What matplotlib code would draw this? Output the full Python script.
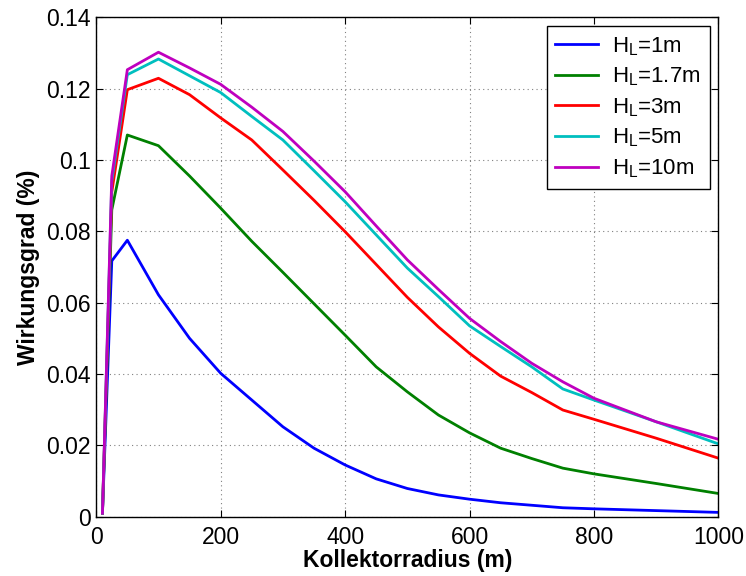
import matplotlib.pyplot as plt

plt.rcParams['font.family'] = ['Liberation Sans', 'DejaVu Sans']
plt.rcParams['mathtext.default'] = 'regular'

# Kollektorradius (m)
radius = [10, 25, 50, 100, 150, 200, 250, 300, 350, 400, 450, 500,
          550, 600, 650, 700, 750, 800, 900, 1000]

# Wirkungsgrad for each tower height H_L
eta_1m = [0.001, 0.0717, 0.0775, 0.0622, 0.0500, 0.0402, 0.0327, 0.0252, 0.0192,
          0.0145, 0.0106, 0.0079, 0.0061, 0.0049, 0.0039, 0.0032, 0.0025, 0.0022,
          0.0017, 0.0012]
eta_1_7m = [0.001, 0.086, 0.107, 0.104, 0.0955, 0.0865, 0.0772, 0.0685, 0.0597,
            0.0509, 0.0420, 0.0350, 0.0285, 0.0235, 0.0192, 0.0163, 0.0136, 0.0120,
            0.0093, 0.0065]
eta_3m = [0.001, 0.091, 0.1197, 0.1229, 0.1183, 0.1118, 0.1056, 0.0972, 0.0887,
          0.0799, 0.0707, 0.0615, 0.0532, 0.0458, 0.0394, 0.0348, 0.0299, 0.0273,
          0.0220, 0.0164]
eta_5m = [0.001, 0.094, 0.1239, 0.1283, 0.1236, 0.1189, 0.1122, 0.1056, 0.0970,
          0.0883, 0.0790, 0.0697, 0.0617, 0.0535, 0.0477, 0.0420, 0.0358, 0.0327,
          0.0266, 0.0204]
eta_10m = [0.001, 0.0955, 0.1253, 0.1302, 0.1258, 0.1212, 0.1148, 0.1080, 0.0997,
           0.0911, 0.0815, 0.0720, 0.0637, 0.0556, 0.0491, 0.0430, 0.0378, 0.0332,
           0.0266, 0.0217]

series = [eta_1m, eta_1_7m, eta_3m, eta_5m, eta_10m]
labels = ['H$_L$=1m', 'H$_L$=1.7m', 'H$_L$=3m', 'H$_L$=5m', 'H$_L$=10m']
colors = ['#0000ff', '#008000', '#ff0000', '#00bfbf', '#bf00bf']

fig = plt.figure(figsize=(7.46, 5.76), dpi=100)
ax = fig.add_axes([0.129, 0.103, 0.834, 0.867])

for y, lab, c in zip(series, labels, colors):
    ax.plot(radius, y, color=c, lw=2.0, label=lab)

ax.set_xlim(0, 1000)
ax.set_ylim(0, 0.14)
ax.set_xticks([0, 200, 400, 600, 800, 1000])
ax.set_yticks([0, 0.02, 0.04, 0.06, 0.08, 0.1, 0.12, 0.14])
ax.set_yticklabels(['0', '0.02', '0.04', '0.06', '0.08', '0.1', '0.12', '0.14'])
ax.tick_params(direction='in', top=True, right=True, labelsize=16.5, length=5)
ax.tick_params(axis='y', pad=4)
ax.tick_params(axis='x', pad=7)
ax.grid(True, linestyle=(0, (1, 3)), color='#808080', lw=0.8)
for s in ax.spines.values():
    s.set_linewidth(1.0)

ax.set_xlabel('Kollektorradius (m)', fontsize=16.5, fontweight='bold', labelpad=0)
ax.set_ylabel('Wirkungsgrad (%)', fontsize=16.5, fontweight='bold', labelpad=4)

leg = ax.legend(loc='upper right', fontsize=16, handlelength=1.9, labelspacing=0.36,
                fancybox=False, edgecolor='black', framealpha=1,
                borderaxespad=0.4, handletextpad=0.65, borderpad=0.4)
leg.get_frame().set_linewidth(1.0)

fig.savefig('out.png', dpi=100)
